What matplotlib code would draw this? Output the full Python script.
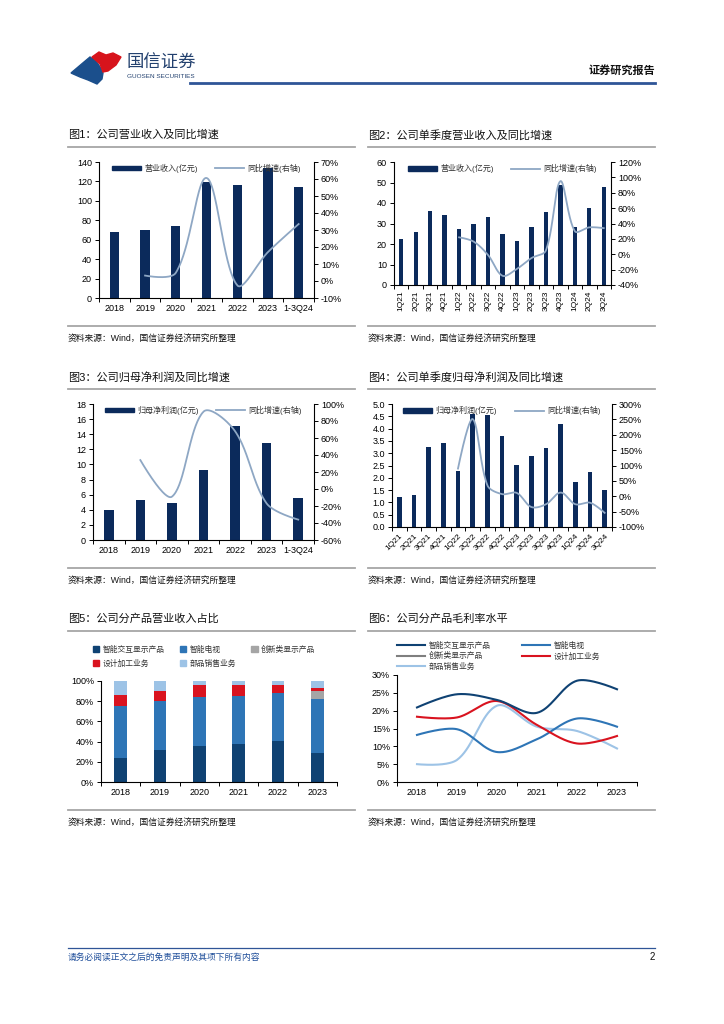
import numpy as np
import matplotlib
matplotlib.use('Agg')
import matplotlib.pyplot as plt
from matplotlib.patches import Polygon, Patch
from matplotlib.lines import Line2D
from matplotlib.ticker import FixedLocator

plt.rcParams['font.family'] = ['Liberation Sans', 'Noto Sans CJK SC']

# ---------------- data ----------------
years7 = ['2018', '2019', '2020', '2021', '2022', '2023', '1-3Q24']
rev_year = [68, 70, 74, 119, 116, 134, 114]
rev_year_yoy = [None, 3.2, 4.8, 60.6, -2.5, 17.0, 33.5]

quarters = ['1Q21', '2Q21', '3Q21', '4Q21', '1Q22', '2Q22', '3Q22', '4Q22',
            '1Q23', '2Q23', '3Q23', '4Q23', '1Q24', '2Q24', '3Q24']
rev_q = [22.3, 26.0, 36.0, 34.3, 27.3, 29.8, 33.2, 25.0, 21.5, 28.2, 35.8, 49.0, 28.2, 37.5, 47.8]
rev_q_yoy = [None, None, None, None, 22, 16.5, -1, -28, -19, -5, 5, 95, 30, 35, 34]

np_year = [3.95, 5.3, 4.85, 9.3, 15.1, 12.85, 5.6]
np_year_yoy = [None, 34, -9, 91, 68, -17, -36]

np_q = [1.2, 1.32, 3.27, 3.43, 2.28, 4.6, 4.57, 3.68, 2.52, 2.9, 3.22, 4.18, 1.84, 2.23, 1.5]
np_q_yoy = [None, None, None, None, 90, 251, 36, 7, 11, -35, -26, 12, -26, -21, -54]

years6 = ['2018', '2019', '2020', '2021', '2022', '2023']
seg_names = ['智能交互显示产品', '智能电视', '创新类显示产品', '设计加工业务', '部品销售业务']
share_interactive = [24, 32, 36, 38, 41, 28.7]
share_tv = [51, 48, 48.5, 47, 47, 53.5]
share_innov = [0, 0, 0, 0, 0, 7.9]
share_design = [11, 10, 11.5, 11.4, 7.6, 3.0]
share_parts = [14, 10, 4, 3.6, 4.4, 6.9]

gm_interactive = [20.9, 24.6, 23.0, 19.4, 28.4, 26.0]
gm_tv = [13.2, 14.8, 8.4, 12.0, 17.8, 15.5]
gm_innov = [None, None, None, None, None, None]
gm_design = [18.3, 18.1, 22.7, 16.0, 10.8, 12.9]
gm_parts = [5.0, 6.2, 21.4, 15.5, 14.3, 9.4]

# ---------------- styles ----------------
W, H = 724, 1024
NAVY = '#0B2A5B'
LINE = '#8EA7C4'
C_INT = '#0F4273'
C_TV = '#2E75B6'
C_INN = '#A5A5A5'
C_DES = '#D9131F'
C_PAR = '#9DC3E6'
SEP = '#A6A6A6'

fig = plt.figure(figsize=(W / 100, H / 100), dpi=100)


def R(x0, yt, x1, yb):
    return [x0 / W, 1 - yb / H, (x1 - x0) / W, (yb - yt) / H]


def fx(x):
    return x / W


def fy(y):
    return 1 - y / H


def hline(x0, x1, y, color, lw):
    fig.add_artist(Line2D([fx(x0), fx(x1)], [fy(y), fy(y)], color=color, lw=lw,
                          transform=fig.transFigure))


def smooth_curve(ax, xs, ys, n=40):
    """Bezier smoothing through the data points (drawn in screen space)."""
    pts = ax.transData.transform(np.column_stack([xs, ys]).astype(float))
    m = len(pts)
    d = np.linalg.norm(np.diff(pts, axis=0), axis=1)
    out_arm = np.zeros_like(pts)
    in_arm = np.zeros_like(pts)
    for i in range(m):
        if 0 < i < m - 1:
            D = pts[i + 1] - pts[i - 1]
            s = d[i - 1] + d[i]
            out_arm[i] = D * d[i] / s / 3
            in_arm[i] = D * d[i - 1] / s / 3
    out = []
    for i in range(m - 1):
        p1 = pts[i]
        p2 = pts[i + 1]
        c1 = p1 + out_arm[i]
        c2 = p2 - in_arm[i + 1]
        t = np.linspace(0, 1, n)[:, None]
        seg = (1 - t) ** 3 * p1 + 3 * (1 - t) ** 2 * t * c1 + 3 * (1 - t) * t ** 2 * c2 + t ** 3 * p2
        out.append(seg if i == 0 else seg[1:])
    out = np.vstack(out)
    data = ax.transData.inverted().transform(out)
    return data[:, 0], data[:, 1]


def block(x0, x1, ytitle, yline, ysep, ysrc, title):
    fig.text(fx(x0), fy(ytitle), title, fontsize=8, va='center', ha='left', color='#111111')
    hline(x0, x1, yline, SEP, 1.3)
    hline(x0, x1, ysep, SEP, 1.3)
    fig.text(fx(x0), fy(ysrc), '资料来源：Wind，国信证券经济研究所整理', fontsize=6.3,
             va='center', ha='left', color='#111111')


def style_cat_axis(ax, n):
    ax.set_xlim(-0.5, n - 0.5)
    ax.xaxis.set_major_locator(FixedLocator(np.arange(n)))
    ax.xaxis.set_minor_locator(FixedLocator(np.arange(n + 1) - 0.5))
    ax.tick_params(axis='x', which='major', length=0, pad=4)
    ax.tick_params(axis='x', which='minor', length=3, width=0.7, direction='out')


def combo(rect, cats, bars, yoy, ylim, ystep, y2lim, y2step, bar_label, rot, yfmt, bw=0.3):
    ax = fig.add_axes(rect)
    n = len(cats)
    x = np.arange(n)
    ax.bar(x, bars, width=bw, color=NAVY, zorder=2)
    ax.set_ylim(*ylim)
    ax.set_yticks(np.arange(ylim[0], ylim[1] + ystep / 2, ystep))
    ax.yaxis.set_major_formatter(plt.FuncFormatter(lambda v, p: yfmt.format(v)))
    style_cat_axis(ax, n)
    if rot == 90:
        ax.set_xticklabels(cats, rotation=90, fontsize=6)
    elif rot == 45:
        ax.set_xticklabels(cats, rotation=45, ha='right', rotation_mode='anchor', fontsize=6)
    else:
        ax.set_xticklabels(cats, fontsize=6.5)
    ax.tick_params(axis='y', labelsize=6.5, length=3, width=0.7, direction='out', pad=2)
    for s in ['top', 'right']:
        ax.spines[s].set_visible(False)
    for s in ['left', 'bottom']:
        ax.spines[s].set_linewidth(0.8)
    ax2 = ax.twinx()
    ax2.set_ylim(*y2lim)
    ax2.set_yticks(np.arange(y2lim[0], y2lim[1] + y2step / 2, y2step))
    ax2.yaxis.set_major_formatter(plt.FuncFormatter(lambda v, p: '{:.0f}%'.format(v)))
    ax2.tick_params(axis='y', labelsize=6.5, length=3, width=0.7, direction='out', pad=2)
    for s in ['top', 'left', 'bottom']:
        ax2.spines[s].set_visible(False)
    ax2.spines['right'].set_linewidth(0.8)
    xi = [i for i, v in enumerate(yoy) if v is not None]
    yv = [yoy[i] for i in xi]
    sx, sy = smooth_curve(ax2, xi, yv)
    ax2.plot(sx, sy, color=LINE, lw=1.3, zorder=3)
    handles = [Patch(color=NAVY), Line2D([], [], color=LINE, lw=1.3)]
    ax2.legend(handles, [bar_label, '同比增速(右轴)'], loc='upper center',
               bbox_to_anchor=(0.5, 1.04), ncol=2, frameon=False, fontsize=5.8,
               handlelength=3.6, handleheight=0.5, columnspacing=2.2, handletextpad=0.4,
               labelcolor='#333333')
    return ax, ax2


# ---------------- header ----------------
blue_poly = [(71, 73), (84, 62), (90, 57), (96, 61), (100, 67), (103, 73), (102, 79), (97, 84), (88, 80), (80, 77)]
red_poly = [(92, 57), (99, 52), (106, 55), (113, 53), (121, 57), (116, 65), (108, 71), (103, 72), (100, 64)]
fig.add_artist(Polygon([(fx(a), fy(b)) for a, b in blue_poly], closed=True, color='#1B4F8C',
                       transform=fig.transFigure))
fig.add_artist(Polygon([(fx(a), fy(b)) for a, b in red_poly], closed=True, color='#D7141C',
                       transform=fig.transFigure))
fig.text(fx(126), fy(63), '国信证券', fontsize=12.5, color='#23416F', va='center', ha='left')
fig.text(fx(127), fy(77), 'GUOSEN SECURITIES', fontsize=4.6, color='#23416F', va='center', ha='left')
hline(190, 655, 83, '#2F5597', 2.0)
fig.text(fx(655), fy(70), '证券研究报告', fontsize=8, color='#111111', va='center', ha='right',
         fontweight='bold')

# ---------------- blocks ----------------
block(68, 355, 135, 147, 326, 338, '图1：公司营业收入及同比增速')
block(368, 655, 135, 147, 326, 338, '图2：公司单季度营业收入及同比增速')
block(68, 355, 377, 389, 568, 580, '图3：公司归母净利润及同比增速')
block(368, 655, 377, 389, 568, 580, '图4：公司单季度归母净利润及同比增速')
block(68, 355, 619, 631, 810, 822, '图5：公司分产品营业收入占比')
block(368, 655, 619, 631, 810, 822, '图6：公司分产品毛利率水平')

combo(R(99, 162, 314, 298), years7, rev_year, rev_year_yoy, (0, 140), 20, (-10, 70), 10,
      '营业收入(亿元)', 0, '{:.0f}')
combo(R(394, 162, 611, 285), quarters, rev_q, rev_q_yoy, (0, 60), 10, (-40, 120), 20,
      '营业收入(亿元)', 90, '{:.0f}')
combo(R(93, 404, 314, 540), years7, np_year, np_year_yoy, (0, 18), 2, (-60, 100), 20,
      '归母净利润(亿元)', 0, '{:.0f}')
combo(R(392, 404, 612, 527), quarters, np_q, np_q_yoy, (0, 5), 0.5, (-100, 300), 50,
      '归母净利润(亿元)', 45, '{:.1f}')

# ---------------- chart 5 ----------------
ax5 = fig.add_axes(R(101, 681, 337, 782))
x6 = np.arange(len(years6))
shares = [share_interactive, share_tv, share_innov, share_design, share_parts]
cols5 = [C_INT, C_TV, C_INN, C_DES, C_PAR]
bottom = np.zeros(len(years6))
for vals, c in zip(shares, cols5):
    ax5.bar(x6, vals, width=0.32, bottom=bottom, color=c, zorder=2)
    bottom = bottom + np.array(vals)
ax5.set_ylim(0, 100)
ax5.set_yticks(np.arange(0, 101, 20))
ax5.yaxis.set_major_formatter(plt.FuncFormatter(lambda v, p: '{:.0f}%'.format(v)))
style_cat_axis(ax5, len(years6))
ax5.set_xticklabels(years6, fontsize=6.5)
ax5.tick_params(axis='y', labelsize=6.5, length=3, width=0.7, direction='out', pad=2)
for s in ['top', 'right']:
    ax5.spines[s].set_visible(False)
order5 = [0, 3, 1, 4, 2]
ax5.legend([Patch(color=cols5[i]) for i in order5], [seg_names[i] for i in order5],
           loc='upper left', bbox_to_anchor=(fx(86), fy(639)), bbox_transform=fig.transFigure,
           ncol=3, frameon=False, fontsize=5.6, handlelength=0.8, handleheight=0.8,
           handletextpad=0.4, columnspacing=2.0, labelspacing=0.75, labelcolor='#333333')

# ---------------- chart 6 ----------------
ax6 = fig.add_axes(R(397, 675, 637, 782))
ax6.set_ylim(0, 30)
ax6.set_yticks(np.arange(0, 31, 5))
ax6.yaxis.set_major_formatter(plt.FuncFormatter(lambda v, p: '{:.0f}%'.format(v)))
style_cat_axis(ax6, len(years6))
ax6.set_xticklabels(years6, fontsize=6.5)
ax6.tick_params(axis='y', labelsize=6.5, length=3, width=0.7, direction='out', pad=2)
for s in ['top', 'right']:
    ax6.spines[s].set_visible(False)
gms = [gm_interactive, gm_tv, gm_innov, gm_design, gm_parts]
cols6 = [C_INT, C_TV, '#7F7F7F', C_DES, C_PAR]
zord = [5, 4, 3, 4, 3]
for vals, c, z in zip(gms, cols6, zord):
    xi = [i for i, v in enumerate(vals) if v is not None]
    yv = [vals[i] for i in xi]
    if len(xi) >= 2:
        sx, sy = smooth_curve(ax6, xi, yv)
        ax6.plot(sx, sy, color=c, lw=1.5, zorder=z)
order6 = [0, 2, 4, 1, 3]
ax6.legend([Line2D([], [], color=cols6[i], lw=1.5) for i in order6], [seg_names[i] for i in order6],
           loc='upper left', bbox_to_anchor=(fx(390), fy(635)), bbox_transform=fig.transFigure,
           ncol=2, frameon=False, fontsize=5.6, handlelength=3.6, handletextpad=0.5,
           columnspacing=4.0, labelspacing=0.3, labelcolor='#333333')

# ---------------- footer ----------------
hline(68, 655, 948, '#2F5597', 0.9)
fig.text(fx(68), fy(957), '请务必阅读正文之后的免责声明及其项下所有内容', fontsize=6.3,
         color='#1F4E9A', va='center', ha='left', style='italic')
fig.text(fx(655), fy(957), '2', fontsize=7, color='#111111', va='center', ha='right')

fig.savefig('out.png', dpi=100)
